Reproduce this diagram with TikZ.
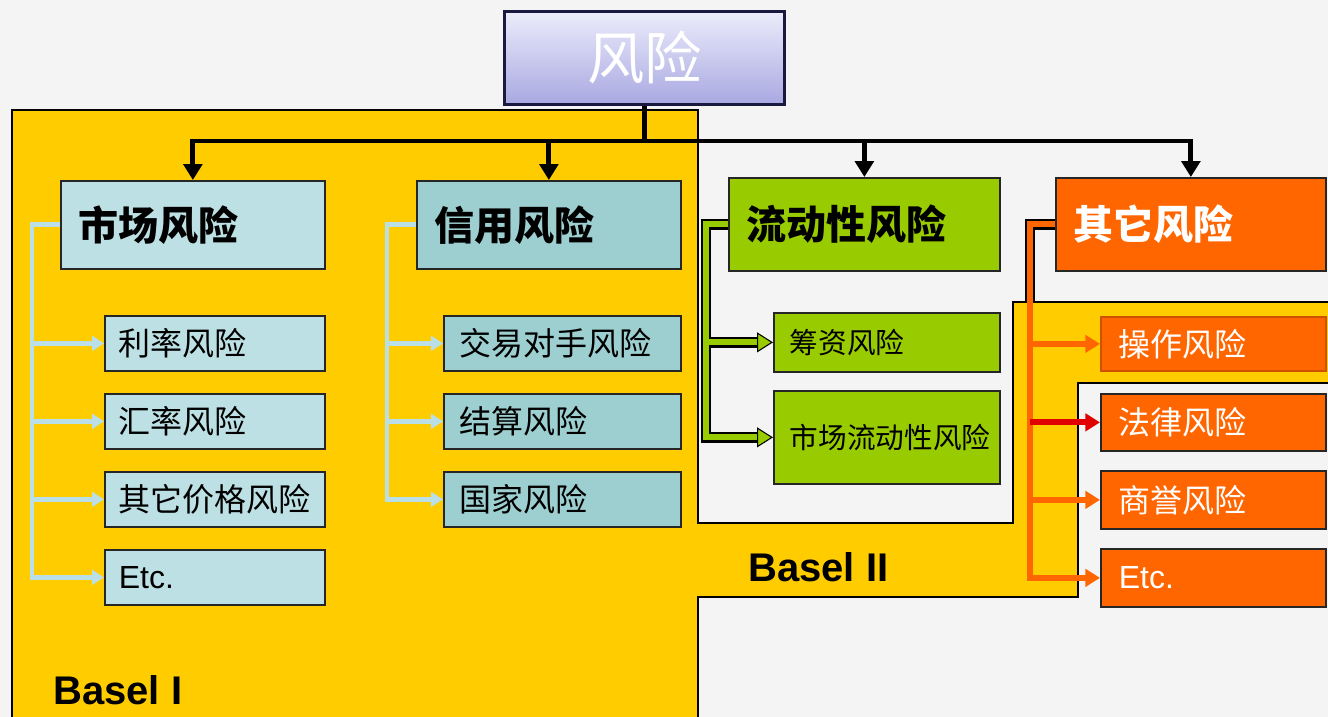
\documentclass[tikz,border=0pt]{standalone}
\usepackage{fontspec}
\setmainfont{Liberation Sans}
\newfontfamily\cjk{Noto Sans CJK SC}
\usetikzlibrary{arrows.meta}
\definecolor{bg}{HTML}{F4F4F4}
\definecolor{yel}{HTML}{FFCC00}
\definecolor{mblue}{HTML}{BDE0E4}
\definecolor{cteal}{HTML}{9DCFD1}
\definecolor{lgreen}{HTML}{99CC00}
\definecolor{orng}{HTML}{FF6600}
\definecolor{lav1}{HTML}{ECECFB}
\definecolor{lav2}{HTML}{A8A8E2}
\definecolor{navy}{HTML}{1A1A40}
\definecolor{lbline}{HTML}{BBDFE6}
\definecolor{redarr}{HTML}{E00000}
\begin{document}
\begin{tikzpicture}[x=0.75pt,y=-0.75pt,
  box/.style={anchor=north west, draw=black!85, line width=1.3pt, inner ysep=0pt, align=left},
  hdr/.style={box, inner xsep=13.5pt, font=\cjk\bfseries\fontsize{30}{32}\selectfont},
  subbox/.style={box, inner xsep=10.5pt, font=\cjk\fontsize{24}{26}\selectfont},
  liqbox/.style={box, inner xsep=12pt, font=\cjk\fontsize{21.5}{24}\selectfont},
  etcfont/.style={font=\fontsize{24}{26}\selectfont},
  blk/.style={draw=black, line width=3.6pt, -{Triangle[length=12pt,width=14pt]}},
  lbc/.style={draw=lbline, line width=3.6pt, -{Triangle[length=9pt,width=11pt]}},
  gunder/.style={draw=black, line width=8pt, shorten >=10pt},
  gover/.style={draw=lgreen, line width=4.5pt, -{Triangle[length=12pt,width=15pt,fill=lgreen,color=black,line width=0.8pt]}},
  oline/.style={draw=orng, line width=4.5pt},
  oc/.style={oline, -{Triangle[length=11pt,width=13pt]}},
  baselfont/.style={font=\bfseries\fontsize{30}{32}\selectfont}
]
\useasboundingbox (0,0) rectangle (1328,717);
\fill[bg] (0,0) rectangle (1328,717);

% Basel regions
\filldraw[fill=yel, draw=black, line width=1.6pt]
  (12,730) -- (12,110) -- (698,110) -- (698,523) -- (1013,523) -- (1013,302)
  -- (1340,302) -- (1340,383) -- (1078,383) -- (1078,597) -- (698,597) -- (698,730);

% top
\node[anchor=north west, draw=navy, line width=2.2pt, top color=lav1, bottom color=lav2,
  minimum width=210pt, minimum height=69.75pt, inner sep=0pt, text=white,
  font=\cjk\fontsize{43}{45}\selectfont] (top) at (503,10) {风险};

% headers
\node[hdr, fill=mblue, minimum width=198pt, minimum height=66pt, text width=171pt] (mkt) at (60,180) {市场风险};
\node[hdr, fill=cteal, minimum width=198pt, minimum height=66pt, text width=171pt] (cred) at (416,180) {信用风险};
\node[hdr, fill=lgreen, minimum width=203.25pt, minimum height=69.75pt, text width=176.25pt] (liq) at (728,177) {流动性风险};
\node[hdr, fill=orng, text=white, minimum width=202.5pt, minimum height=69.75pt, text width=175.5pt] (oth) at (1055,177) {其它风险};

% market subs
\node[subbox, fill=mblue, minimum width=165pt, minimum height=41.25pt, text width=144pt] (m1) at (104,315) {利率风险};
\node[subbox, fill=mblue, minimum width=165pt, minimum height=41.25pt, text width=144pt] (m2) at (104,393) {汇率风险};
\node[subbox, fill=mblue, minimum width=165pt, minimum height=41.25pt, text width=144pt] (m3) at (104,471) {其它价格风险};
\node[subbox, etcfont, fill=mblue, minimum width=165pt, minimum height=41.25pt, text width=144pt] (m4) at (104,549) {Etc.};

% credit subs
\node[subbox, inner xsep=12pt, fill=cteal, minimum width=177.75pt, minimum height=41.25pt, text width=153.75pt] (c1) at (443,315) {交易对手风险};
\node[subbox, inner xsep=12pt, fill=cteal, minimum width=177.75pt, minimum height=41.25pt, text width=153.75pt] (c2) at (443,393) {结算风险};
\node[subbox, inner xsep=12pt, fill=cteal, minimum width=177.75pt, minimum height=41.25pt, text width=153.75pt] (c3) at (443,471) {国家风险};

% liquidity subs
\node[liqbox, fill=lgreen, minimum width=169.5pt, minimum height=44.25pt, text width=145.5pt] (l1) at (773,312) {筹资风险};
\node[liqbox, fill=lgreen, minimum width=169.5pt, minimum height=69.75pt, text width=145.5pt] (l2) at (773,390) {市场流动性风险};

% other subs
\node[subbox, inner xsep=13.5pt, fill=orng, draw=orng!80!black, text=white, minimum width=168.75pt, minimum height=40.5pt, text width=141.75pt] (o1) at (1100,316) {操作风险};
\node[subbox, inner xsep=13.5pt, fill=orng, text=white, minimum width=168.75pt, minimum height=42.75pt, text width=141.75pt] (o2) at (1100,393) {法律风险};
\node[subbox, inner xsep=13.5pt, fill=orng, text=white, minimum width=168.75pt, minimum height=43.5pt, text width=141.75pt] (o3) at (1100,470) {商誉风险};
\node[subbox, etcfont, inner xsep=13.5pt, fill=orng, text=white, minimum width=168.75pt, minimum height=43.5pt, text width=141.75pt] (o4) at (1100,548) {Etc.};

% labels
\node[baselfont, anchor=west, inner sep=0pt] (b1) at (53,690) {Basel I};
\node[baselfont, anchor=west, inner sep=0pt] (b2) at (748,567) {Basel II};

% bus coordinates
\coordinate (mbus) at (32,0);
\coordinate (cbus) at (387,0);
\coordinate (gbus) at (706,0);
\coordinate (obus) at (1030,0);
\coordinate (oend) at (1030,302);

% black connectors
\foreach \t in {mkt,cred,liq,oth}
  \draw[blk] (top.south) -- ++(0,35) -| (\t.north);

% light blue connectors
\foreach \t in {m1,m2,m3,m4}
  \draw[lbc] (mkt.west) -- (mkt.west -| mbus) |- (\t.west);
\foreach \t in {c1,c2,c3}
  \draw[lbc] (cred.west) -- (cred.west -| cbus) |- (\t.west);

% green connectors
\foreach \t in {l1,l2}
  \draw[gunder] (liq.west) -- (liq.west -| gbus) |- (\t.west);
\foreach \t in {l1,l2}
  \draw[gover] (liq.west) -- (liq.west -| gbus) |- (\t.west);

% orange connectors
\draw[black, line width=8pt] (oth.west) -- (oth.west -| obus) -- (oend);
\foreach \t in {o1,o3,o4}
  \draw[oc] (oth.west) -- (oth.west -| obus) |- (\t.west);
\draw[oc, draw=redarr] (obus |- o2.west) -- (o2.west);
\end{tikzpicture}
\end{document}
